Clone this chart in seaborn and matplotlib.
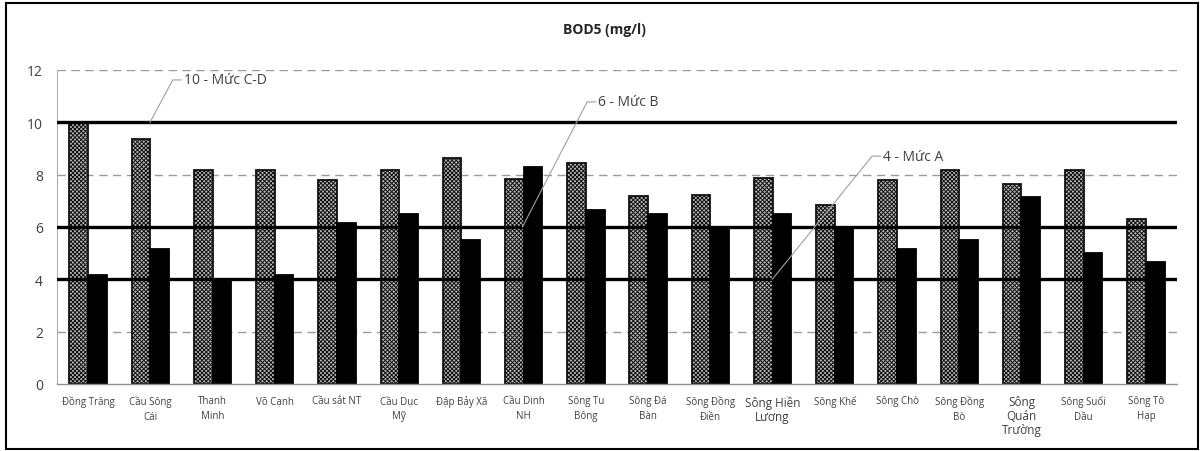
import matplotlib
matplotlib.use("Agg")
import matplotlib.pyplot as plt
import seaborn as sns
import pandas as pd
from matplotlib.patches import Rectangle

# ---- data ----
stations = ["Đồng Trăng", "Cầu Sông\nCái", "Thanh\nMinh", "Võ Cạnh", "Cầu sắt NT",
            "Cầu Dục\nMỹ", "Đập Bảy Xã", "Cầu Dinh\nNH", "Sông Tu\nBông", "Sông Đá\nBàn",
            "Sông Đồng\nĐiền", "Sông Hiền\nLương", "Sông Khế", "Sông Chò", "Sông Đồng\nBò",
            "Sông\nQuán\nTrường", "Sông Suối\nDầu", "Sông Tô\nHạp"]
series1 = [10.0, 9.35, 8.17, 8.17, 7.81, 8.17, 8.65, 7.85, 8.45, 7.18,
           7.23, 7.88, 6.85, 7.81, 8.17, 7.65, 8.17, 6.32]
series2 = [4.15, 5.16, 4.0, 4.15, 6.15, 6.49, 5.49, 8.31, 6.66, 6.49,
           6.0, 6.49, 6.0, 5.16, 5.49, 7.15, 5.0, 4.65]
series_names = ["Đợt 1", "Đợt 2"]
limits = [10, 6, 4]
limit_labels = ["10 - Mức C-D", "6 - Mức B", "4 - Mức A"]
yticks = [0, 2, 4, 6, 8, 10, 12]
title = "BOD5 (mg/l)"

df = pd.DataFrame({
    "station": stations * 2,
    "value": series1 + series2,
    "series": [series_names[0]] * len(stations) + [series_names[1]] * len(stations),
})

sns.set_style("white")
plt.rcParams['font.family'] = ['Open Sans', 'DejaVu Sans']
plt.rcParams['hatch.linewidth'] = 0.7

fig = plt.figure(figsize=(12.02, 4.52), dpi=100)
ax = fig.add_axes([57 / 1202, 1 - 385 / 452, 1120 / 1202, 314 / 452])

sns.barplot(data=df, x="station", y="value", hue="series", order=stations,
            palette=["#b8b8b8", "black"], edgecolor="black", linewidth=1.3,
            width=0.6, legend=False, ax=ax, zorder=2)

for bar in ax.containers[0]:
    bar.set_hatch("xxxxxxxx")
    bar.set_edgecolor("#111111")

ax.set_ylim(0, 12)
ax.set_xlim(-0.5, len(stations) - 0.5)
ax.set_yticks(yticks)
ax.set_xlabel("")
ax.set_ylabel("")

# grid
ax.set_axisbelow(True)
for y in [2, 8, 12]:
    ax.axhline(y, color="#9a9a9a", lw=1.0, dashes=(6, 4), zorder=0)

# limit lines
for lim in limits:
    ax.axhline(lim, color="black", lw=2.4, zorder=3)

# spines
for s in ["top", "right"]:
    ax.spines[s].set_visible(False)
ax.spines["left"].set_color("#b0b0b0")
ax.spines["left"].set_linewidth(0.8)
ax.spines["bottom"].set_color("#909090")
ax.spines["bottom"].set_linewidth(1.0)
ax.spines["bottom"].set_zorder(4)

ax.tick_params(axis="y", length=0, labelsize=10, labelcolor="#404040", pad=10)
ax.tick_params(axis="x", length=0, labelsize=7, labelcolor="#404040", pad=8)
for lbl in ax.get_xticklabels():
    lbl.set_linespacing(1.5)
    if lbl.get_text() in ("Sông Hiền\nLương", "Sông\nQuán\nTrường"):
        lbl.set_fontsize(8.5)
        lbl.set_linespacing(1.1)

# annotations
ann = [
    (0.995, 10, 1.36, 11.62, limit_labels[0]),
    (6.98, 6, 8.02, 10.78, limit_labels[1]),
    (10.995, 4, 12.6, 8.71, limit_labels[2]),
]
for x0, y0, x1, y1, txt in ann:
    ax.plot([x0, x1, x1 + 0.14], [y0, y1, y1], color="#a0a0a0", lw=0.8, zorder=5)
    ax.text(x1 + 0.18, y1, txt, fontsize=10, color="#404040", va="center", ha="left", zorder=5)

fig.text(0.503, 1 - 30 / 452, title, fontsize=10, fontweight="bold", color="#262626",
         ha="center", va="center")

fig.patches.append(Rectangle((6 / 1202, 2 / 452), 1192 / 1202, 446 / 452,
                             transform=fig.transFigure, fill=False,
                             edgecolor="black", linewidth=1.5))

fig.savefig("out.png", dpi=100)
